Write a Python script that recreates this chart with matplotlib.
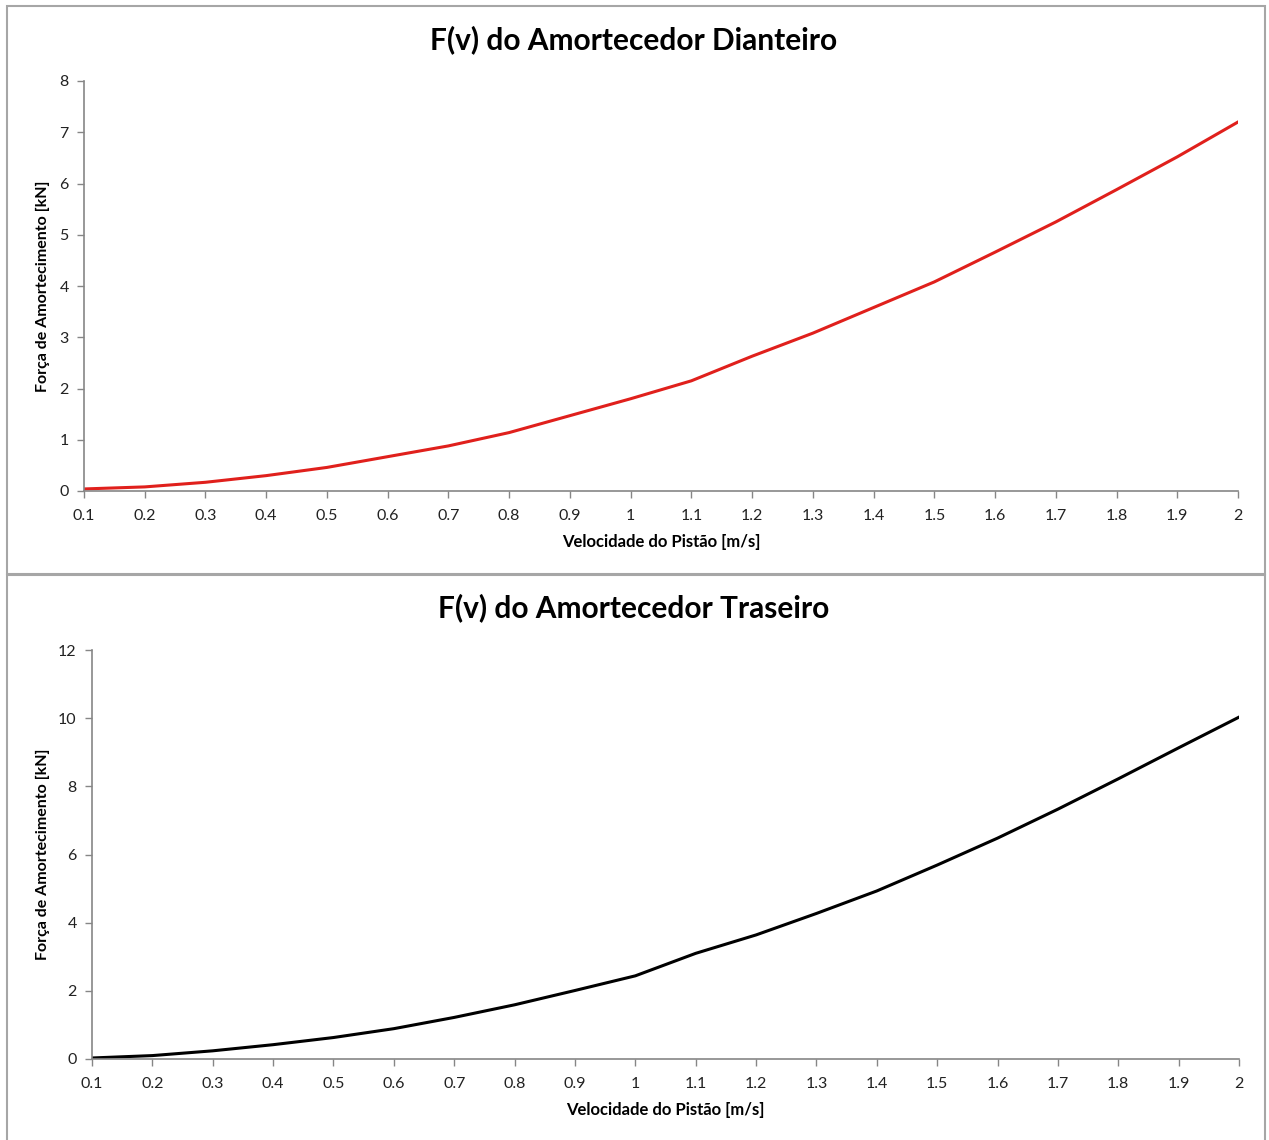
import matplotlib.pyplot as plt
from matplotlib.patches import Rectangle

plt.rcParams['font.family'] = ['Lato', 'DejaVu Sans']

velocidade = ['0.1', '0.2', '0.3', '0.4', '0.5', '0.6', '0.7', '0.8', '0.9', '1',
              '1.1', '1.2', '1.3', '1.4', '1.5', '1.6', '1.7', '1.8', '1.9', '2']
forca_dianteiro = [0.04, 0.08, 0.17, 0.30, 0.46, 0.67, 0.88, 1.14, 1.47, 1.80,
                   2.15, 2.63, 3.08, 3.58, 4.08, 4.66, 5.25, 5.88, 6.52, 7.20]
forca_traseiro = [0.03, 0.10, 0.24, 0.42, 0.63, 0.89, 1.22, 1.59, 2.01, 2.44,
                  3.10, 3.64, 4.27, 4.93, 5.69, 6.48, 7.33, 8.22, 9.13, 10.03]

W, H = 1269, 1140
fig = plt.figure(figsize=(W / 100, H / 100), dpi=100)

# molduras dos dois graficos
for y0, y1 in [(6, 574), (575, 1145)]:
    fig.patches.append(Rectangle((7 / W, 1 - y1 / H), (1265 - 7) / W, (y1 - y0) / H,
                                 transform=fig.transFigure, fill=False,
                                 edgecolor='#a6a6a6', linewidth=1.5))

grafs = [
    dict(y=forca_dianteiro, cor='#e0201c', ymax=8, passo=1,
         box=(84, 1238, 81, 491), titulo='F(v) do Amortecedor Dianteiro',
         ty=40, ylx=43, xly=542),
    dict(y=forca_traseiro, cor='black', ymax=12, passo=2,
         box=(92, 1239, 650, 1059), titulo='F(v) do Amortecedor Traseiro',
         ty=608, ylx=43, xly=1110),
]

for g in grafs:
    x0, x1, yt, yb = g['box']
    ax = fig.add_axes([x0 / W, 1 - yb / H, (x1 - x0) / W, (yb - yt) / H])
    idx = range(len(velocidade))
    ax.plot(idx, g['y'], color=g['cor'], linewidth=2.2)
    ax.set_xlim(0, len(velocidade) - 1)
    ax.set_ylim(0, g['ymax'])
    ax.set_xticks(list(idx))
    ax.set_xticklabels(velocidade)
    ax.set_yticks(range(0, g['ymax'] + 1, g['passo']))
    for s in ['top', 'right']:
        ax.spines[s].set_visible(False)
    for s in ['left', 'bottom']:
        ax.spines[s].set_color('#868686')
        ax.spines[s].set_linewidth(1.2)
    ax.tick_params(axis='both', direction='out', length=5, width=1,
                   color='#868686', labelsize=11.5, labelcolor='#222222')
    ax.tick_params(axis='x', pad=8)
    ax.tick_params(axis='y', pad=6)
    fig.text(634 / W, 1 - g['ty'] / H, g['titulo'], ha='center', va='center',
             fontsize=21.5, fontweight='bold')
    fig.text(g['ylx'] / W, 1 - ((yt + yb) / 2) / H, 'Força de Amortecimento [kN]',
             rotation=90, ha='center', va='center', fontsize=11.5, fontweight='bold')
    fig.text(((x0 + x1) / 2) / W, 1 - g['xly'] / H, 'Velocidade do Pistão [m/s]',
             ha='center', va='center', fontsize=12, fontweight='bold')

fig.savefig('out.png', dpi=100)
